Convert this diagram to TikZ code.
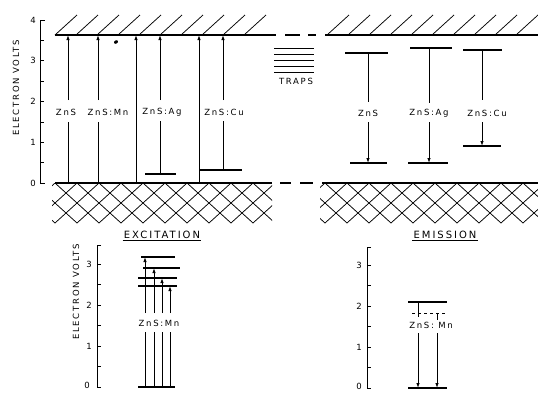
\documentclass[tikz,border=0pt]{standalone}
\usepackage{fontspec}
\newfontfamily\labfont{DejaVu Sans}[LetterSpace=20]
\usetikzlibrary{arrows.meta}

\begin{document}
\begin{tikzpicture}[
  x=1pt, y=-1pt,
  band/.style={line width=1.1pt},
  hatch/.style={line width=0.75pt},
  level/.style={line width=1.1pt},
  trans/.style={line width=0.8pt},
  arr/.style={trans, -{Latex[length=5pt,width=3.4pt]}},
  axis/.style={line width=0.75pt},
  lab/.style={font=\labfont\fontsize{8.5}{10}\selectfont, inner sep=1pt},
  title/.style={font=\labfont\fontsize{10}{12}\selectfont, inner sep=1pt}
]
\useasboundingbox (0,0) rectangle (538,392);

% Axes
\draw[axis] (45,20) -- (40,20) -- (40,183) -- (45,183);
\foreach \v in {0.5,1,...,3.5}
  \draw[axis] (40,{183-40.75*\v}) -- ++(4,0);
\foreach \v in {0,...,4}
  \node[lab, anchor=east] (tick\v) at (37,{183-40.75*\v}) {\v};
\node[lab, rotate=90] (evtop) at (16,88) {ELECTRON VOLTS};

% Bands
\draw[band] (55,35) -- (276,35);
\draw[band] (285,35) -- (300,35) (308,35) -- (316,35);
\draw[band] (325,35) -- (538,35);
\foreach \x in {55,76,...,250}
  \draw[hatch] (\x,35) -- ++(22,-20);
\foreach \x in {327,348,...,520}
  \draw[hatch] (\x,35) -- ++(22,-20);
\draw[band] (55,183) -- (272,183);
\draw[band] (280,183) -- (291,183) (300,183) -- (313,183);
\draw[band] (322,183) -- (538,183);
\begin{scope}
  \clip (52,183) rectangle (272,224);
  \foreach \x in {11,33,...,320} {
    \draw[hatch] (\x,183) -- ++(44,40);
    \draw[hatch] (\x,183) -- ++(-44,40);
  }
\end{scope}
\begin{scope}
  \clip (320,183) rectangle (538,224);
  \foreach \x in {281,303,...,585} {
    \draw[hatch] (\x,183) -- ++(44,40);
    \draw[hatch] (\x,183) -- ++(-44,40);
  }
\end{scope}
\fill[rotate around={30:(116,42)}] (116,42) ellipse (2.2 and 1.6);

% Absorption
\draw[trans] (68,183) -- (68,122);
\draw[arr] (68,100) -- (68,35);
\draw[trans] (98,183) -- (98,122);
\draw[arr] (98,100) -- (98,35);
\draw[arr] (136,183) -- (136,35);
\draw[level] (145,174) -- (176,174);
\draw[trans] (160,174) -- (160,121);
\draw[arr] (160,100) -- (160,35);
\draw[arr] (199,183) -- (199,35);
\draw[level] (200,170) -- (242,170);
\draw[trans] (223,170) -- (223,121);
\draw[arr] (223,100) -- (223,35);
\node[lab] (azns) at (66,112) {ZnS};
\node[lab] (aznsmn) at (108,112) {ZnS:Mn};
\node[lab] (aznsag) at (162,112) {ZnS:Ag};
\node[lab] (aznscu) at (224,112) {ZnS:Cu};

% Traps
\foreach \y in {48,54,60,66,72}
  \draw[trans] (274,\y) -- (314,\y);
\node[lab] (traps) at (296,81) {TRAPS};

% Emission
\draw[level] (345,53) -- (388,53);
\draw[trans] (368,53) -- (368,102);
\draw[arr] (368,122) -- (368,163);
\draw[level] (350,163) -- (387,163);
\draw[level] (410,48) -- (452,48);
\draw[trans] (429,48) -- (429,103);
\draw[arr] (429,122) -- (429,163);
\draw[level] (408,163) -- (448,163);
\draw[level] (463,50) -- (502,50);
\draw[trans] (482,50) -- (482,100);
\draw[arr] (482,122) -- (482,146);
\draw[level] (463,146) -- (501,146);
\node[lab] (ezns) at (368,113) {ZnS};
\node[lab] (eznsag) at (429,113) {ZnS:Ag};
\node[lab] (eznscu) at (487,113) {ZnS:Cu};

% Excitation of ZnS:Mn
\node[title] (exc) at (162,235) {EXCITATION};
\draw[trans] (exc.south west) -- (exc.south east);
\draw[axis] (101,245) -- (97,245) -- (97,387) -- (101,387);
\foreach \v in {0.5,1,...,3}
  \draw[axis] (97,{387-41*\v}) -- ++(4,0);
\foreach \v in {1,2,3}
  \node[lab, anchor=east] (xtick\v) at (93,{387-41*\v}) {\v};
\node[lab, anchor=east] (xtick0) at (91,385) {0};
\node[lab, rotate=90] (evexc) at (76,292) {ELECTRON VOLTS};
\draw[level] (138,387) -- (175,387);
\draw[level] (141,257) -- (175,257);
\draw[level] (143,268) -- (180,268);
\draw[level] (138,278) -- (177,278);
\draw[level] (138,286) -- (177,286);
\foreach \x/\y in {145/257,154/268,162/278,170/286} {
  \draw[trans] (\x,387) -- (\x,332);
  \draw[arr] (\x,313) -- (\x,\y);
}
\node[lab] (xznsmn) at (159,323) {ZnS:Mn};

% Emission of ZnS:Mn
\node[title] (emi) at (445,235) {EMISSION};
\draw[trans] (emi.south west) -- (emi.south east);
\draw[axis] (371,247) -- (367,247) -- (367,388) -- (371,388);
\foreach \v in {0.5,1,...,3}
  \draw[axis] (367,{388-41*\v}) -- ++(4,0);
\foreach \v in {1,2,3}
  \node[lab, anchor=east] (mtick\v) at (363,{388-41*\v}) {\v};
\node[lab, anchor=east] (mtick0) at (363,386) {0};
\draw[level] (408,302) -- (447,302);
\draw[trans, dashed] (412,313) -- (447,313);
\draw[trans] (418,302) -- (418,317);
\draw[arr] (418,333) -- (418,388);
\draw[trans] (437,313) -- (437,320);
\draw[arr] (437,333) -- (437,388);
\draw[level] (408,388) -- (447,388);
\node[lab] (mznsmn) at (431,325) {ZnS: Mn};

\end{tikzpicture}
\end{document}
